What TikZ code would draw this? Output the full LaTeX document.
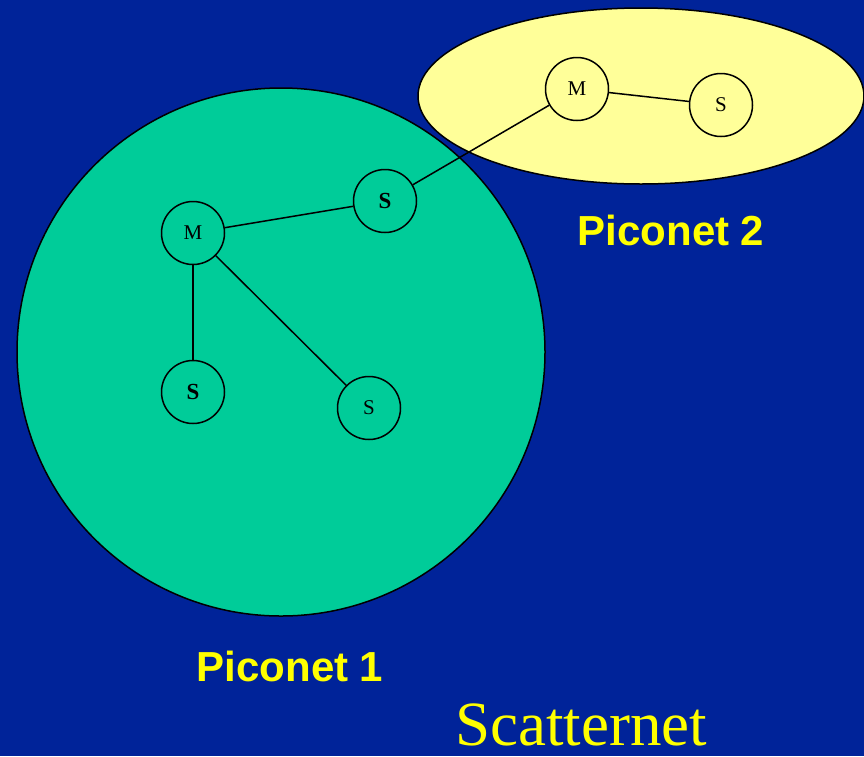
\documentclass[tikz,border=0pt]{standalone}
\usepackage{fontspec}
\setmainfont{Liberation Serif}
\newfontfamily\arialfont{Liberation Sans}
\usetikzlibrary{shapes.geometric}
\definecolor{bgblue}{RGB}{0,35,153}
\definecolor{pgreen}{RGB}{0,204,153}
\definecolor{pyellow}{RGB}{255,255,153}
\definecolor{tyellow}{RGB}{255,255,0}
\begin{document}
\begin{tikzpicture}[x=1pt,y=-1pt,
  dev/.style={circle,draw=black,line width=1.5pt,minimum size=63pt,inner sep=0pt,font=\fontsize{21}{21}\selectfont},
  devb/.style={dev,font=\fontsize{23}{23}\selectfont\bfseries},
  link/.style={draw=black,line width=1.5pt},
  plabel/.style={anchor=base,text=tyellow,font=\arialfont\fontsize{42}{42}\selectfont\bfseries,inner sep=0pt}]
\fill[bgblue] (0,0) rectangle (864,756);
\useasboundingbox (0,0) rectangle (864,756);
\node[ellipse,draw=black,line width=1.5pt,fill=pyellow,minimum width=446pt,minimum height=176pt,inner sep=0pt] (pico2) at (641,96) {};
\node[circle,draw=black,line width=1.5pt,fill=pgreen,minimum size=528pt,inner sep=0pt] (pico1) at (281,352) {};
\node[dev] (m1) at (193,233) {M};
\node[devb] (s1) at (385,201) {S};
\node[devb] (s2) at (193,392) {S};
\node[dev] (s3) at (369,408) {S};
\node[dev] (m2) at (577,89) {M};
\node[dev] (s4) at (721,105) {S};
\draw[link] (m1) -- (s1);
\draw[link] (m1) -- (s2);
\draw[link] (m1) -- (s3);
\draw[link] (s1) -- (m2);
\draw[link] (m2) -- (s4);
\node[plabel] (l2) at (671,245) {Piconet 2};
\node[plabel] (l1) at (290,681) {Piconet 1};
\node[anchor=base,text=tyellow,font=\fontsize{63}{63}\selectfont,inner sep=0pt] (sc) at (581,745) {Scatternet};
\end{tikzpicture}
\end{document}
